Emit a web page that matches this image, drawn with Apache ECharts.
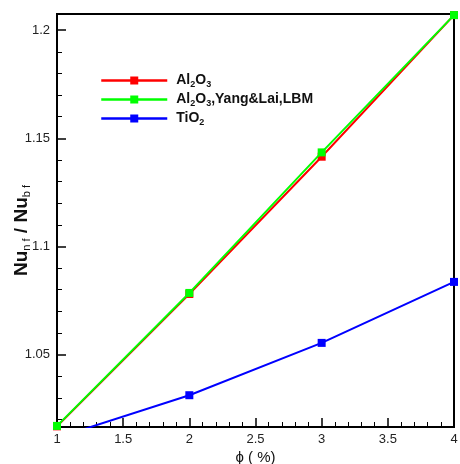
<!DOCTYPE html>
<html>
<head>
<meta charset="utf-8">
<script src="https://cdn.jsdelivr.net/npm/echarts@6/dist/echarts.min.js"></script>
<style>html,body{margin:0;padding:0;background:#fff;}#c{width:460px;height:464px;}</style>
</head>
<body>
<div id="c"></div>
<script>
var phi = [1, 2, 3, 4];
var al2o3 = [1.0168, 1.0780, 1.1415, 1.2070];
var al2o3Yang = [1.0170, 1.0785, 1.1435, 1.2070];
var tio2 = [1.0115, 1.0312, 1.0554, 1.0836];
var xTicks = [1, 1.5, 2, 2.5, 3, 3.5, 4];
var yTicks = [1.05, 1.1, 1.15, 1.2];
var yMinorTicks = [1.02, 1.03, 1.04, 1.06, 1.07, 1.08, 1.09, 1.11, 1.12, 1.13, 1.14, 1.16, 1.17, 1.18, 1.19];
var seriesNames = ['Al{s|2}O{s|3}', 'Al{s|2}O{s|3},Yang&Lai,LBM', 'TiO{s|2}'];

function pairs(ys) { return phi.map(function (x, i) { return [x, ys[i]]; }); }

var font = 'Liberation Sans, Arial, sans-serif';
var chart = echarts.init(document.getElementById('c'));
var names = ['a', 'b', 'c'];
function mk(idx, data, color, z) {
  return {
    name: names[idx], type: 'line', data: pairs(data), clip: true,
    symbol: 'rect', symbolSize: 8, z: z, yAxisIndex: 0,
    lineStyle: { color: color, width: 2 },
    itemStyle: { color: color },
    animation: false
  };
}
var yMin = 1.0165, yMax = 1.2075;
chart.setOption({
  animation: false,
  grid: { left: 57, right: 6, top: 14, bottom: 37, containLabel: false, outerBoundsMode: 'none',
    show: true, borderColor: '#000', borderWidth: 2, backgroundColor: 'transparent' },
  legend: {
    left: 100, top: 72, padding: 0, orient: 'vertical', itemWidth: 66, itemHeight: 10, itemGap: 2,
    data: names,
    lineStyle: { width: 2.5 },
    formatter: function (n) { return seriesNames[names.indexOf(n)]; },
    textStyle: {
      fontFamily: font, fontWeight: 'bold', fontSize: 14, color: '#111', lineHeight: 15, padding: [0, 0, 0, 4],
      rich: { s: { fontFamily: font, fontWeight: 'bold', fontSize: 9, color: '#111', lineHeight: 10, padding: [8, 0, 0, 0] } }
    }
  },
  xAxis: {
    type: 'value', min: 1, max: 4, interval: 0.5,
    name: 'ϕ ( %)', nameLocation: 'middle', nameGap: 23, nameMoveOverlap: false,
    nameTextStyle: { fontFamily: font, fontSize: 15, color: '#111' },
    axisLine: { lineStyle: { color: '#000', width: 2 } },
    axisTick: { inside: true, length: 9, lineStyle: { color: '#000', width: 1.5 } },
    minorTick: { show: true, splitNumber: 5, length: 5, lineStyle: { color: '#000', width: 1 } },
    splitLine: { show: false },
    axisLabel: { fontFamily: font, fontSize: 13, color: '#222', margin: 6,
      formatter: function (v) { return xTicks.indexOf(v) >= 0 ? String(v) : ''; } }
  },
  yAxis: [{
    type: 'value', min: yMin, max: yMax,
    name: 'Nu{s|n f} / Nu{s|b f}', nameLocation: 'middle', nameGap: 25, nameRotate: 90, nameMoveOverlap: false,
    nameTextStyle: { fontFamily: font, fontSize: 19, fontWeight: 'bold', color: '#111', padding: [0, 20, 0, 0],
      rich: { s: { fontFamily: font, fontSize: 11, fontWeight: 'normal', color: '#111', padding: [10, 0, 0, 0] } } },
    axisLine: { lineStyle: { color: '#000', width: 2 } },
    axisTick: { inside: true, length: 9, customValues: yTicks, lineStyle: { color: '#000', width: 1.5 } },
    splitLine: { show: false },
    axisLabel: { fontFamily: font, fontSize: 13, color: '#222', margin: 7, customValues: yTicks,
      formatter: function (v) { return String(Math.round(v * 100) / 100); } }
  }, {
    type: 'value', min: yMin, max: yMax, position: 'left',
    axisLine: { show: false },
    axisTick: { inside: true, length: 5, customValues: yMinorTicks, lineStyle: { color: '#000', width: 1 } },
    axisLabel: { show: false },
    splitLine: { show: false }
  }],
  series: [
    mk(0, al2o3, '#ff0000', 2),
    mk(1, al2o3Yang, '#00ff00', 3),
    mk(2, tio2, '#0000ff', 4)
  ]
});
</script>
</body>
</html>
